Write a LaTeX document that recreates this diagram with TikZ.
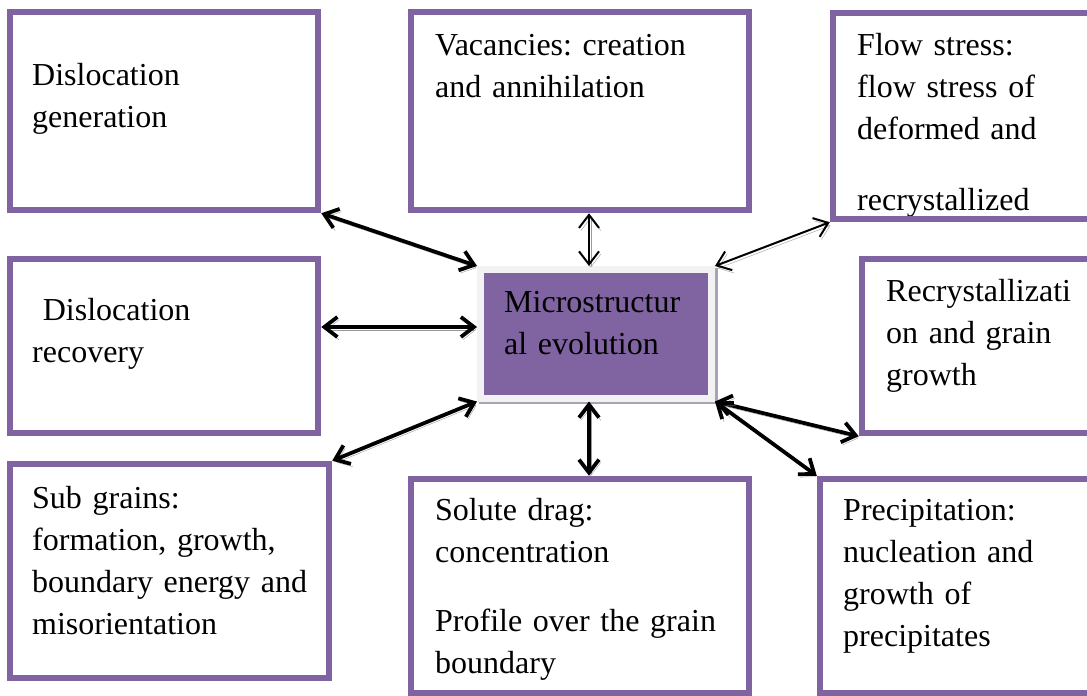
\documentclass[tikz,border=0pt]{standalone}
\usepackage{fontspec}
\setmainfont{Liberation Serif}
\usetikzlibrary{arrows.meta,calc}
\definecolor{boxpurple}{HTML}{8064A2}
\definecolor{framegray}{HTML}{F2F2F2}
\definecolor{frameshadow}{HTML}{A9A2B9}
\definecolor{arrowshadow}{HTML}{9A9A9A}
\frenchspacing
\begin{document}
\begin{tikzpicture}[x=1pt,y=-1pt,
  every node/.style={inner sep=0pt},
  topic/.style={draw=boxpurple, line width=6.5pt, rectangle},
  boxtext/.style={anchor=base west, text width=420pt, align=left,
    font=\fontsize{32}{42}\selectfont},
  bilink/.style={>={Straight Barb[length=13pt,width=20pt]}, <->,
    line width=3.8pt,
    preaction={draw=arrowshadow, transform canvas={shift={(1.8pt,-2.8pt)}}}},
  thinlink/.style={bilink, line width=2pt},
]
\clip (0,0) rectangle (1087,696);

% texts (set first so that the frames lie over them)
\node[boxtext] (t-gen) at (32,85) {Dislocation\\generation};
\node[boxtext] (t-vac) at (435,55) {Vacancies: creation\\and annihilation};
\node[boxtext] (t-flow) at (857,55) {Flow stress:\\flow stress of\\deformed and\\[29pt]recrystallized};
\node[boxtext] (t-rec) at (32,320) {\ Dislocation\\recovery};
\node[boxtext] (t-rex) at (886,301) {Recrystallizati\\on and grain\\growth};
\node[boxtext] (t-sub) at (32,508) {Sub grains:\\formation, growth,\\boundary energy and\\misorientation};
\node[boxtext] (t-sol) at (435,520) {Solute drag:\\concentration\\[27pt]Profile over the grain\\boundary};
\node[boxtext] (t-pre) at (843,520) {Precipitation:\\nucleation and\\growth of\\precipitates};

% outer topic frames
\node[topic, minimum width=308pt, minimum height=198pt] (gen) at (164,111) {};
\node[topic, minimum width=338pt, minimum height=198pt] (vac) at (580,111) {};
\node[topic, minimum width=267pt, minimum height=206pt] (flow) at (966.5,116) {};
\node[topic, minimum width=308pt, minimum height=174pt] (rec) at (164,346) {};
\node[topic, minimum width=238pt, minimum height=174pt] (rex) at (981,346) {};
\node[topic, minimum width=319pt, minimum height=214pt] (sub) at (169.5,571) {};
\node[topic, minimum width=338pt, minimum height=214pt] (sol) at (580,586) {};
\node[topic, minimum width=280pt, minimum height=214pt] (pre) at (960,586) {};

% central box with its light frame and shadow
\fill[frameshadow] (479,268) rectangle (717.5,404);
\node[fill=boxpurple, draw=framegray, line width=7pt,
  minimum width=231pt, minimum height=128.5pt] (mc) at (596,333.75) {};
\node[boxtext] (t-mc) at (504,312) {Microstructur\\al evolution};

% connectors
\coordinate (vx) at (589,0);
\coordinate (hy) at (0,327);
\draw[bilink] (gen.south east) -- (mc.north west);
\draw[thinlink] (vac.south -| vx) -- (mc.north -| vx);
\draw[thinlink] (flow.south west) -- (mc.north east);
\draw[bilink] (rec.east |- hy) -- (mc.west |- hy);
\draw[bilink] (sub.north east) -- (mc.south west);
\draw[bilink] (mc.south -| vx) -- (sol.north -| vx);
\draw[bilink] (mc.south east) -- (rex.south west);
\draw[bilink] (mc.south east) -- (pre.north west);
\end{tikzpicture}
\end{document}
